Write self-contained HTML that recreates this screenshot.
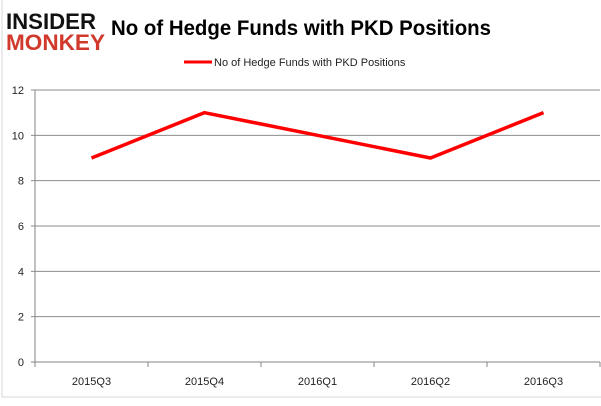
<!DOCTYPE html>
<html><head><meta charset="utf-8"><style>
body{margin:0;background:#fff;width:601px;height:401px;overflow:hidden;font-family:"Liberation Sans",sans-serif}
</style></head><body>
<svg width="601" height="401" xmlns="http://www.w3.org/2000/svg">
<rect x="2" y="-1" width="610" height="398" fill="none" stroke="#d9d9d9"/>
<g font-family="Liberation Sans" font-weight="bold">
<text x="6" y="29" font-size="22" fill="#111" textLength="90" lengthAdjust="spacingAndGlyphs">INSIDER</text>
<text x="6" y="50" font-size="22" fill="#d0392b" textLength="99" lengthAdjust="spacingAndGlyphs">MONKEY</text>
</g>
<text x="111" y="35" font-size="21" font-weight="bold" fill="#000" textLength="380" lengthAdjust="spacingAndGlyphs">No of Hedge Funds with PKD Positions</text>
<line x1="184" y1="62" x2="212" y2="62" stroke="#ff0000" stroke-width="3"/>
<text x="214" y="66" font-size="11" fill="#222">No of Hedge Funds with PKD Positions</text>
<g id="grid"></g><g id="axes"></g><g id="series"></g>
</svg>
<script>
const categories=["2015Q3","2015Q4","2016Q1","2016Q2","2016Q3"];
const values=[9,11,10,9,11];
const yTicks=[0,2,4,6,8,10,12];
const L=35,R=600,T=90,B=362,NS="http://www.w3.org/2000/svg";
const y=v=>B-(v/12)*(B-T);
const bw=(R-L)/categories.length;
const x=i=>L+bw*(i+0.5);
function mk(t,a,p){const e=document.createElementNS(NS,t);for(const k in a)e.setAttribute(k,a[k]);p.appendChild(e);return e;}
const g=document.getElementById('grid'),ax=document.getElementById('axes'),s=document.getElementById('series');
yTicks.forEach(v=>{
 const l=mk('line',{x1:L-4,x2:R,y1:y(v),y2:y(v),stroke:v===0?'#868686':'#8c8c8c','stroke-width':1},g);
 
 
 const t=mk('text',{x:L-11,y:y(v)+4,'font-size':11,'text-anchor':'end',fill:'#222'},ax);
 t.textContent=v;
 
 
});
const yl=mk('line',{x1:L,x2:L,y1:T,y2:B,stroke:'#868686'},ax);


for(let i=0;i<=categories.length;i++){
 const tk=mk('line',{x1:L+bw*i,x2:L+bw*i,y1:B,y2:B+5,stroke:'#868686'},ax);
 
 
}
categories.forEach((c,i)=>{
 const t=mk('text',{x:x(i),y:385,'font-size':11,'text-anchor':'middle',fill:'#222'},ax);
 t.textContent=c;
 
 
});
const p=mk('polyline',{points:values.map((v,i)=>x(i)+','+y(v)).join(' '),fill:'none',stroke:'#ff0000','stroke-width':3.5,'stroke-linejoin':'round'},s);


</script>
</body></html>
